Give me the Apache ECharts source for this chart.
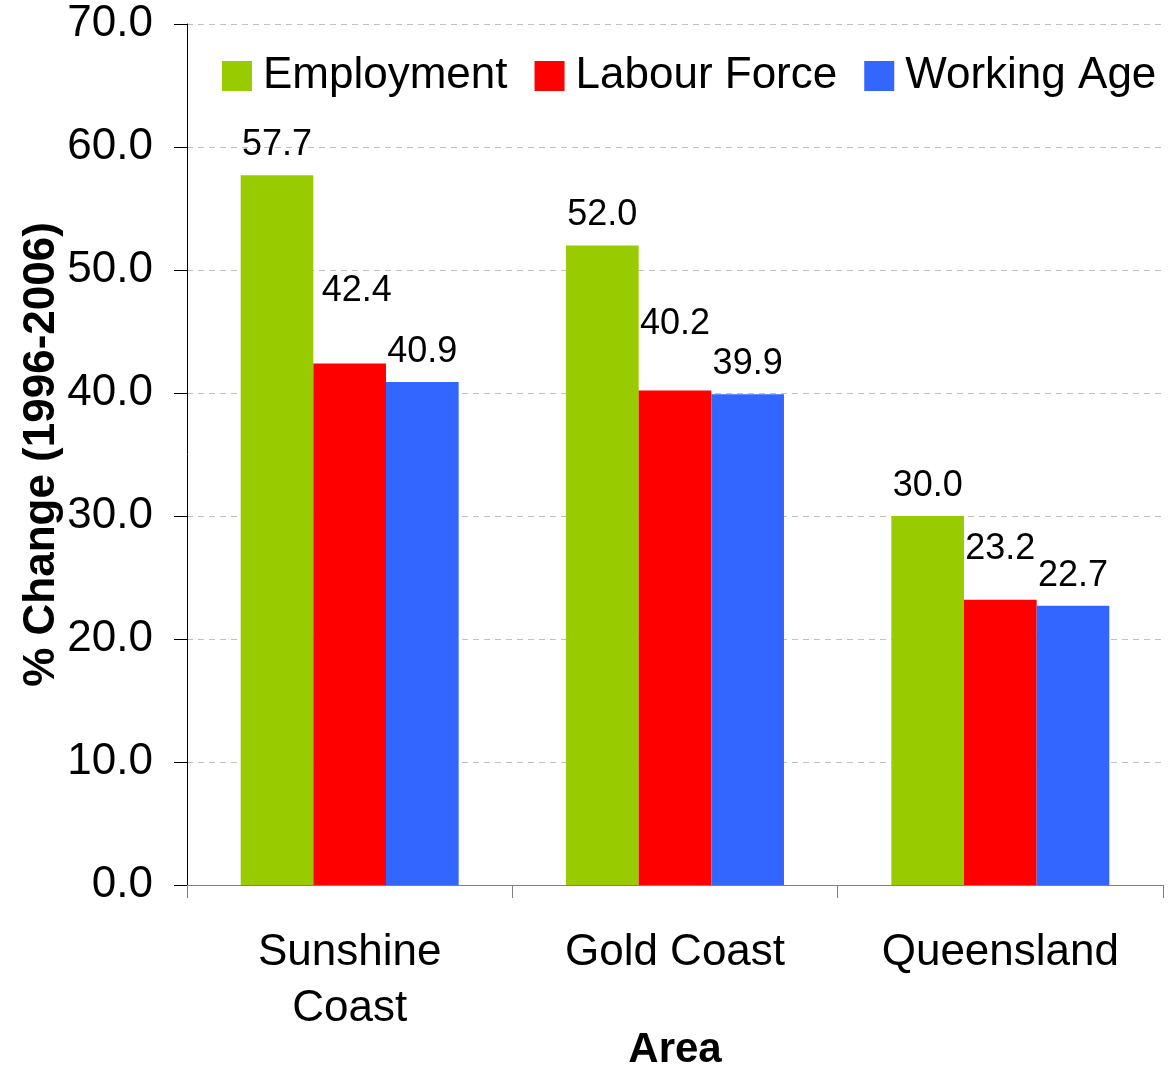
<!DOCTYPE html>
<html>
<head>
<meta charset="utf-8">
<title>% Change (1996-2006) by Area</title>
<script src="https://cdn.jsdelivr.net/npm/echarts@6/dist/echarts.min.js"></script>
<style>
  html, body { margin: 0; padding: 0; background: #ffffff; }
  #chart { width: 1175px; height: 1068px; }
</style>
</head>
<body>
<div id="chart"></div>
<script>
// data
const areas = ['Sunshine Coast', 'Gold Coast', 'Queensland']
const employment = [57.7, 52.0, 30.0]
const labourForce = [42.4, 40.2, 23.2]
const workingAge = [40.9, 39.9, 22.7]
const yTicks = [0, 10, 20, 30, 40, 50, 60, 70]

// the red labels sit higher than the others in the original
const redLabelOffset = [[7, -42], [0, -36], [0, -21]]

const FONT = "'Liberation Sans', Arial, sans-serif"

const chart = echarts.init(document.getElementById('chart'), null, { renderer: 'canvas' })

const barLabel = {
  show: true,
  position: 'top',
  distance: 12,
  color: '#000',
  fontFamily: FONT,
  fontSize: 36,
  formatter: (p) => Number(p.value).toFixed(1)
}

const option = {
  backgroundColor: '#ffffff',
  animation: false,
  grid: {
    left: 187,
    right: 12,
    top: 24,
    bottom: 183,
    containLabel: false,
    outerBoundsMode: 'none'
  },
  legend: {
    left: 222,
    top: 54,
    padding: 0,
    itemWidth: 30,
    itemHeight: 30,
    itemGap: 27,
    icon: 'rect',
    textStyle: {
      color: '#000',
      fontFamily: FONT,
      fontSize: 44,
      lineHeight: 43,
      padding: [0, 0, 0, 6]
    },
    data: ['Employment', 'Labour Force', 'Working Age']
  },
  xAxis: {
    type: 'category',
    data: areas,
    name: 'Area',
    nameLocation: 'middle',
    nameGap: 144,
    nameMoveOverlap: false,
    nameTextStyle: {
      color: '#000',
      fontFamily: FONT,
      fontSize: 42,
      fontWeight: 'bold'
    },
    axisLine: { show: true, lineStyle: { color: '#808080', width: 1 } },
    axisTick: { show: true, interval: 0, length: 13, alignWithLabel: false, lineStyle: { color: '#808080' } },
    axisLabel: {
      interval: 0,
      color: '#000',
      fontFamily: FONT,
      fontSize: 44,
      lineHeight: 56,
      margin: 40,
      align: 'center',
      // long names wrap onto two lines, like the original
      formatter: (v) => (v.length > 12 ? v.replace(' ', '\n') : v)
    },
    splitLine: { show: false }
  },
  yAxis: {
    type: 'value',
    min: yTicks[0],
    max: yTicks[yTicks.length - 1],
    interval: 10,
    name: '% Change (1996-2006)',
    nameLocation: 'middle',
    nameRotate: 90,
    nameGap: 123,
    nameMoveOverlap: false,
    nameTextStyle: {
      color: '#000',
      fontFamily: FONT,
      fontSize: 44,
      fontWeight: 'bold'
    },
    axisLine: { show: true, lineStyle: { color: '#000', width: 1 } },
    axisTick: { show: true, length: 13, lineStyle: { color: '#000' } },
    axisLabel: {
      color: '#000',
      fontFamily: FONT,
      fontSize: 44,
      margin: 34,
      formatter: (v) => v.toFixed(1)
    },
    splitLine: {
      show: true,
      lineStyle: { color: '#c0c0c0', type: [6, 5], width: 1 }
    }
  },
  series: [
    {
      name: 'Employment',
      type: 'bar',
      barGap: '0%',
      barCategoryGap: '33%',
      itemStyle: { color: '#99cc00' },
      label: barLabel,
      data: employment
    },
    {
      name: 'Labour Force',
      type: 'bar',
      barGap: '0%',
      barCategoryGap: '33%',
      itemStyle: { color: '#ff0000' },
      label: barLabel,
      data: labourForce.map((v, i) => ({ value: v, label: { offset: redLabelOffset[i] } }))
    },
    {
      name: 'Working Age',
      type: 'bar',
      barGap: '0%',
      barCategoryGap: '33%',
      itemStyle: { color: '#3366ff' },
      label: barLabel,
      data: workingAge
    }
  ]
}

chart.setOption(option)
</script>
</body>
</html>
